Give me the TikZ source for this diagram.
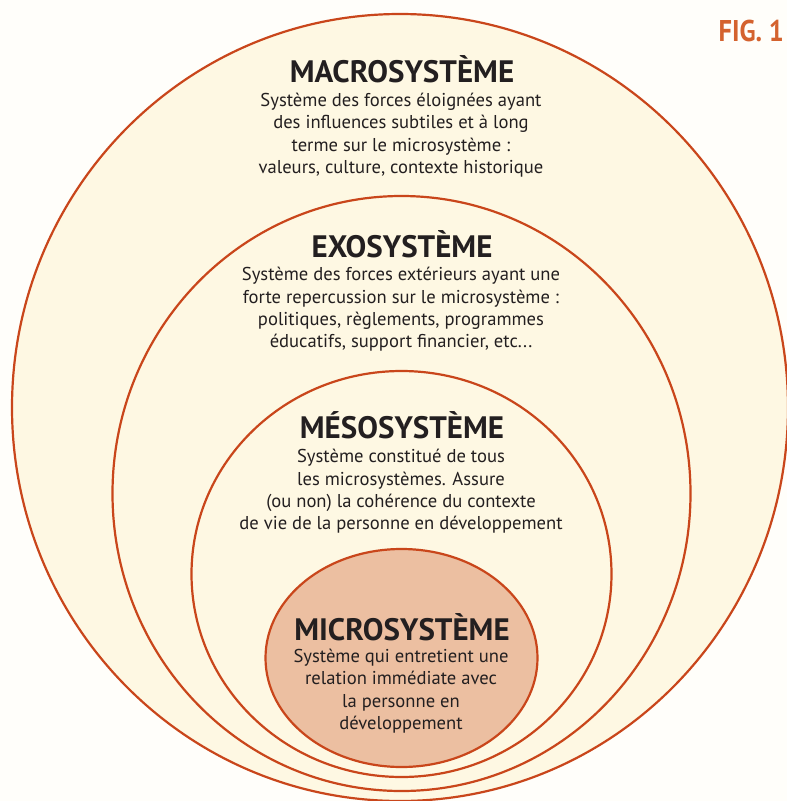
\documentclass[tikz,border=0pt]{standalone}
\usepackage{fontspec}
\setmainfont{PT Sans}
\definecolor{ringc}{HTML}{C9461B}
\definecolor{creamc}{HTML}{FEF8E3}
\definecolor{microc}{HTML}{ECBFA1}
\definecolor{textc}{HTML}{231F20}
\definecolor{figc}{HTML}{D4622E}
\definecolor{bgc}{HTML}{FFFEFA}
\tikzset{
  ring/.style={draw=ringc, line width=2.2pt, fill=creamc},
  heading/.style={text=textc, inner sep=0pt, font=\fontsize{31}{32}\selectfont\bfseries},
  bodytext/.style={text=textc, inner sep=0pt, align=center, font=\fontsize{18.6}{22.4}\selectfont},
}
\begin{document}
\begin{tikzpicture}[x=1pt,y=-1pt]
\useasboundingbox (0,0) rectangle (787,801);
\fill[bgc] (0,0) rectangle (787,801);
\begin{scope}
\clip (0,0) rectangle (787,801);
\draw[ring] (400,407.5) ellipse [x radius=388, y radius=393.5];
\draw[ring] (401.5,493.5) ellipse [x radius=289, y radius=297.5];
\draw[ring] (401.5,574) ellipse [x radius=210, y radius=203];
\draw[ring, fill=microc] (401.5,658) ellipse [x radius=136, y radius=109];
\end{scope}
\node[text=figc, inner sep=0pt, font=\fontsize{30}{31}\selectfont\bfseries, xscale=0.88, anchor=east] (fig) at (784,31) {FIG. 1};

\node[heading] (macroh) at (402,69) {MACROSYSTÈME};
\node[bodytext] (macrob) at (401,135) {Système des forces éloignées ayant\\des influences subtiles et à long\\terme sur le microsystème :\\valeurs, culture, contexte historique};

\node[heading] (exoh) at (402,244) {EXOSYSTÈME};
\node[bodytext] (exob) at (401,309.5) {Système des forces extérieurs ayant une\\forte repercussion sur le microsystème :\\politiques, règlements, programmes\\éducatifs, support financier, etc...};

\node[heading] (mesoh) at (402,425) {MÉSOSYSTÈME};
\node[bodytext] (mesob) at (401,491.5) {Système constitué de tous\\les microsystèmes. Assure\\(ou non) la cohérence du contexte\\de vie de la personne en développement};

\node[heading] (microh) at (402,627) {MICROSYSTÈME};
\node[bodytext] (microb) at (401,691) {Système qui entretient une\\relation immédiate avec\\la personne en\\développement};
\end{tikzpicture}
\end{document}
